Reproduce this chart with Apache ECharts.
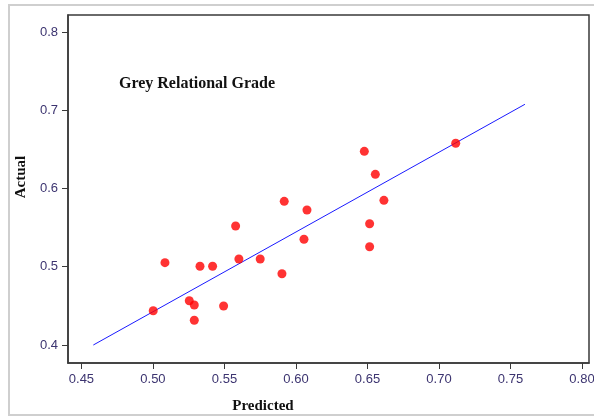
<!DOCTYPE html>
<html>
<head>
<meta charset="utf-8">
<script src="https://cdn.jsdelivr.net/npm/echarts@6/dist/echarts.min.js"></script>
<style>html,body{margin:0;padding:0;background:#fff}#c{width:594px;height:417px}</style>
</head>
<body>
<div id="c"></div>
<script>
const predicted = [0.5084,0.5002,0.5329,0.5417,0.5601,0.5750,0.5254,0.5289,0.5494,0.5289,0.5578,0.6056,0.5902,0.6077,0.5918,0.6478,0.6555,0.6615,0.6515,0.6515,0.7117];
const actual    = [0.5052,0.4438,0.5006,0.5006,0.5099,0.5099,0.4566,0.4511,0.4498,0.4316,0.5521,0.5351,0.4911,0.5725,0.5836,0.6475,0.6181,0.5849,0.5550,0.5256,0.6578];
const fitX = [0.4583, 0.7601];
const fitY = [0.4000, 0.7076];
const xTicks = [0.45,0.50,0.55,0.60,0.65,0.70,0.75,0.80];
const yTicks = [0.4,0.5,0.6,0.7,0.8];
const chartTitle = 'Grey Relational Grade';
const xTitle = 'Predicted';
const yTitle = 'Actual';

const chart = echarts.init(document.getElementById('c'), null, {renderer:'canvas'});
const labelStyle = {color:'#3c3470', fontFamily:'"Liberation Sans", Arial, sans-serif', fontSize:13};
chart.setOption({
  animation:false,
  backgroundColor:'#fff',
  grid:{left:68, top:15, right:5, bottom:54, outerBoundsMode:'none', containLabel:false, show:true, borderColor:'#3a3a3a', borderWidth:1.5, backgroundColor:'#fff'},
  xAxis:{
    type:'value', min:0.4406, max:0.8049,
    axisLine:{show:true, onZero:false, lineStyle:{color:'#3a3a3a', width:1.5}},
    axisTick:{show:true, length:6, customValues:xTicks, lineStyle:{color:'#3a3a3a'}},
    axisLabel:{...labelStyle, customValues:xTicks, margin:10, formatter:v=>v.toFixed(2)},
    splitLine:{show:false}
  },
  yAxis:{
    type:'value', min:0.377, max:0.8217,
    axisLine:{show:true, onZero:false, lineStyle:{color:'#3a3a3a', width:1.5}},
    axisTick:{show:true, length:6, customValues:yTicks, lineStyle:{color:'#3a3a3a'}},
    axisLabel:{...labelStyle, customValues:yTicks, margin:10, formatter:v=>v.toFixed(1)},
    splitLine:{show:false}
  },
  graphic:[
    {type:'rect', shape:{x:9, y:5, width:620, height:410}, style:{fill:null, stroke:'#cfcfcf', lineWidth:2}, silent:true, z:-10},
    {type:'text', x:197, y:84, style:{text:chartTitle, font:'bold 16px "Liberation Serif", "DejaVu Serif", serif', fill:'#111', textAlign:'center', textVerticalAlign:'middle'}},
    {type:'text', x:263, y:406, style:{text:xTitle, font:'bold 15px "Liberation Serif", "DejaVu Serif", serif', fill:'#111', textAlign:'center', textVerticalAlign:'middle'}},
    {type:'text', x:21, y:177, rotation:Math.PI/2, style:{text:yTitle, font:'bold 15px "Liberation Serif", "DejaVu Serif", serif', fill:'#111', textAlign:'center', textVerticalAlign:'middle'}}
  ],
  series:[
    {type:'line', data:fitX.map((x,i)=>[x,fitY[i]]), symbol:'none', lineStyle:{color:'#1a1aff', width:1}, z:2},
    {type:'scatter', data:predicted.map((x,i)=>[x,actual[i]]), symbol:'circle', symbolSize:9, itemStyle:{color:'#ff0000'}, z:3}
  ]
});
</script>
</body>
</html>
